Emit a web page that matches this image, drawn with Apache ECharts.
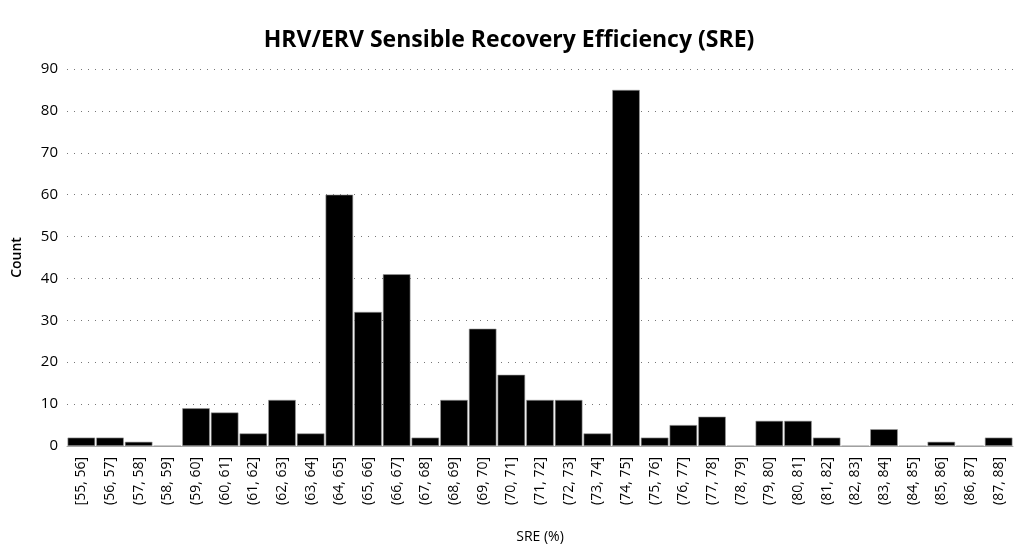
<!DOCTYPE html>
<html>
<head>
<meta charset="utf-8">
<script src="https://cdn.jsdelivr.net/npm/echarts@6/dist/echarts.min.js"></script>
<style>
  html, body { margin: 0; padding: 0; background: #fff; }
  #chart { width: 1018px; height: 549px; }
</style>
</head>
<body>
<div id="chart"></div>
<script>
// SRE bins (1% wide) and counts
const bins = [
    '[55, 56]', '(56, 57]', '(57, 58]', '(58, 59]', '(59, 60]', '(60, 61]',
    '(61, 62]', '(62, 63]', '(63, 64]', '(64, 65]', '(65, 66]', '(66, 67]',
    '(67, 68]', '(68, 69]', '(69, 70]', '(70, 71]', '(71, 72]', '(72, 73]',
    '(73, 74]', '(74, 75]', '(75, 76]', '(76, 77]', '(77, 78]', '(78, 79]',
    '(79, 80]', '(80, 81]', '(81, 82]', '(82, 83]', '(83, 84]', '(84, 85]',
    '(85, 86]', '(86, 87]', '(87, 88]'
];
const counts = [
    2, 2, 1, 0, 9, 8,
    3, 11, 3, 60, 32, 41,
    2, 11, 28, 17, 11, 11,
    3, 85, 2, 5, 7, 0,
    6, 6, 2, 0, 4, 0,
    1, 0, 2
];
const yTicks = [0, 10, 20, 30, 40, 50, 60, 70, 80, 90];

const font = '"Open Sans", "DejaVu Sans", sans-serif';

let chart = echarts.init(document.getElementById('chart'));
let option = {
    backgroundColor: '#fff',
    animation: false,
    title: {
        text: 'HRV/ERV Sensible Recovery Efficiency (SRE)',
        left: 'center',
        top: 24,
        textStyle: {
            color: '#000',
            fontFamily: font,
            fontWeight: 'bold',
            fontSize: 23
        }
    },
    grid: {
        left: 67,
        right: 5,
        top: 69,
        bottom: 103,
        containLabel: false,
        outerBoundsMode: 'none'
    },
    xAxis: {
        type: 'category',
        data: bins,
        name: 'SRE (%)',
        nameLocation: 'middle',
        nameGap: 84,
        nameTextStyle: {
            color: '#000',
            fontFamily: font,
            fontSize: 14
        },
        axisLine: { show: true, lineStyle: { color: '#aaa', width: 1 } },
        axisTick: { show: false },
        axisLabel: {
            rotate: 90,
            interval: 0,
            margin: 11,
            color: '#000',
            fontFamily: font,
            fontSize: 14
        }
    },
    yAxis: {
        type: 'value',
        min: 0,
        max: yTicks[yTicks.length - 1],
        interval: yTicks[1] - yTicks[0],
        name: 'Count',
        nameLocation: 'middle',
        nameGap: 43,
        nameTextStyle: {
            color: '#000',
            fontFamily: font,
            fontSize: 14,
            fontWeight: 600
        },
        axisLine: { show: false },
        axisTick: { show: false },
        axisLabel: {
            margin: 9,
            color: '#000',
            fontFamily: font,
            fontSize: 15
        },
        splitLine: {
            show: true,
            lineStyle: { color: '#777', width: 1, type: [1, 6] }
        }
    },
    series: [{
        type: 'bar',
        data: counts,
        barCategoryGap: '4%',
        itemStyle: {
            color: '#000',
            borderColor: '#999',
            borderWidth: 0.6
        }
    }]
};
chart.setOption(option);
</script>
</body>
</html>
